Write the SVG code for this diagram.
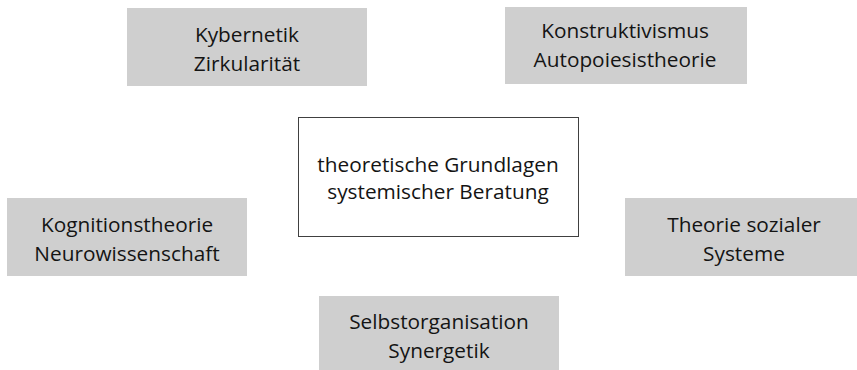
<svg xmlns="http://www.w3.org/2000/svg" width="857" height="370" viewBox="0 0 857 370">
<style>
.box{fill:#cfcfcf;stroke:none}
.center{fill:#ffffff;stroke:#404040;stroke-width:1}
text{font-family:"Open Sans","Noto Sans","DejaVu Sans",sans-serif;font-size:20.8px;fill:#141414;text-anchor:middle}
</style>
<rect width="857" height="370" fill="#ffffff"/>
<g id="connectors"/>
<g id="node-center">
<rect class="center" x="298.5" y="117.5" width="280" height="119"/>
<text x="438" y="172">theoretische Grundlagen</text>
<text x="438" y="199">systemischer Beratung</text>
</g>
<g id="node-kybernetik">
<rect class="box" x="127" y="8" width="240" height="78"/>
<text x="247" y="42">Kybernetik</text>
<text x="247" y="71">Zirkularität</text>
</g>
<g id="node-konstruktivismus">
<rect class="box" x="505" y="7" width="242" height="77"/>
<text x="625" y="38">Konstruktivismus</text>
<text x="625" y="67">Autopoiesistheorie</text>
</g>
<g id="node-kognition">
<rect class="box" x="7" y="198" width="240" height="78"/>
<text x="127" y="232">Kognitionstheorie</text>
<text x="127" y="261">Neurowissenschaft</text>
</g>
<g id="node-sozial">
<rect class="box" x="625" y="198" width="240" height="78"/>
<text x="744" y="232">Theorie sozialer</text>
<text x="744" y="261">Systeme</text>
</g>
<g id="node-selbstorganisation">
<rect class="box" x="319" y="296" width="240" height="80"/>
<text x="439" y="329">Selbstorganisation</text>
<text x="439" y="358">Synergetik</text>
</g>
</svg>
